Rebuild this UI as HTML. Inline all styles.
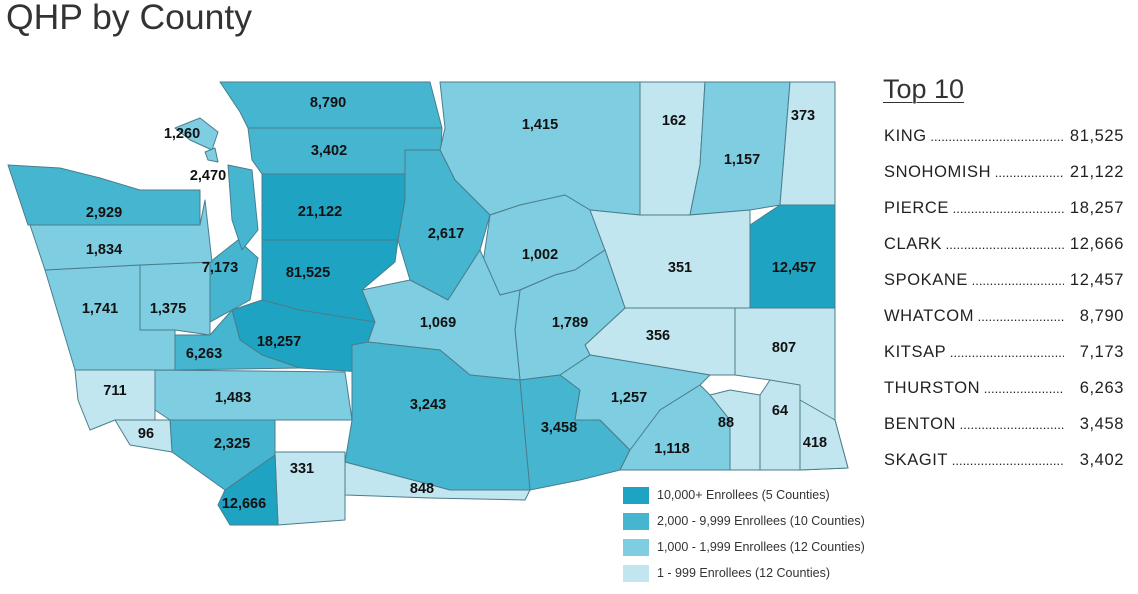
<!DOCTYPE html>
<html><head><meta charset="utf-8"><style>
body{margin:0;width:1138px;height:594px;background:#fff;position:relative;overflow:hidden;font-family:"Liberation Sans","DejaVu Sans",sans-serif;color:#222}
.t{position:absolute;left:6px;top:-3px;font-size:35.5px;color:#333}
.h{position:absolute;left:883px;top:74px;font-size:27px;color:#333;text-decoration:underline;text-decoration-thickness:1px;text-underline-offset:4px}
.row{position:absolute;left:884px;width:240px;font-size:16.5px;letter-spacing:0.6px;display:flex;white-space:nowrap;color:#222}
.row .n{overflow:hidden;width:180px}
.row .n::after{content:" ............................................................";letter-spacing:0;font-size:13px}
.row .v{margin-left:auto}
.lg{position:absolute;left:623px;font-size:12.5px;color:#333}
.lg i{position:absolute;left:0;top:0;width:26px;height:17px}
.lg span{position:absolute;left:34px;top:1px;white-space:nowrap}
svg text{font-family:"Liberation Sans",sans-serif;font-weight:bold;font-size:14.5px;text-anchor:middle;fill:#111}
</style></head><body>
<div class="t">QHP by County</div>
<svg width="860" height="540" style="position:absolute;left:0;top:0">
<g stroke="#4b7d8c" stroke-width="1" stroke-linejoin="round">
<polygon fill="#46b5d0" points="220,82 430,82 442,128 248,128 240,112"/>
<polygon fill="#46b5d0" points="248,128 442,128 440,172 408,174 262,174 252,160"/>
<polygon fill="#1fa3c2" points="262,174 408,174 416,192 405,200 398,240 262,240"/>
<polygon fill="#1fa3c2" points="262,240 398,240 395,262 362,290 375,322 330,318 300,310 262,300"/>
<polygon fill="#1fa3c2" points="232,310 262,300 300,310 375,322 368,342 362,372 300,368 262,355 240,340"/>
<polygon fill="#7fcde0" points="440,82 640,82 640,215 590,210 565,195 545,200 520,205 490,215 455,180 440,150 445,128"/>
<polygon fill="#46b5d0" points="405,150 440,150 455,180 490,215 480,250 448,300 410,280 398,240 405,200"/>
<polygon fill="#7fcde0" points="490,215 520,205 565,195 590,210 605,250 575,270 555,275 520,290 500,295 482,270"/>
<polygon fill="#c1e6ef" points="640,82 705,82 700,165 690,215 640,215"/>
<polygon fill="#7fcde0" points="705,82 790,82 780,205 750,210 690,215 700,165"/>
<polygon fill="#c1e6ef" points="790,82 835,82 835,205 780,205"/>
<polygon fill="#1fa3c2" points="780,205 835,205 835,308 750,308 750,225"/>
<polygon fill="#c1e6ef" points="640,215 690,215 750,210 750,308 625,308 605,250 590,210"/>
<polygon fill="#c1e6ef" points="625,308 735,308 735,375 710,375 590,355 585,345"/>
<polygon fill="#c1e6ef" points="735,308 835,308 835,420 848,468 800,470 800,400 770,380 735,375"/>
<polygon fill="#7fcde0" points="520,290 555,275 575,270 605,250 625,308 585,345 590,355 560,375 520,380 515,330"/>
<polygon fill="#7fcde0" points="362,290 410,280 448,300 480,250 500,295 520,290 515,330 520,380 470,375 440,350 368,342 375,322"/>
<polygon fill="#46b5d0" points="352,345 368,342 440,350 470,375 520,380 530,490 450,490 345,462 352,420"/>
<polygon fill="#46b5d0" points="520,380 560,375 580,390 575,420 600,420 630,450 620,470 580,480 530,490"/>
<polygon fill="#7fcde0" points="560,375 590,355 710,375 700,385 660,410 640,440 630,450 600,420 575,420 580,390"/>
<polygon fill="#7fcde0" points="630,450 660,410 700,385 710,395 730,420 730,470 620,470"/>
<polygon fill="#c1e6ef" points="710,395 730,390 760,395 760,470 730,470 730,420"/>
<polygon fill="#c1e6ef" points="760,395 770,380 800,385 800,470 760,470"/>
<polygon fill="#c1e6ef" points="800,400 835,420 848,468 800,470"/>
<polygon fill="#c1e6ef" points="345,462 450,490 530,490 525,500 430,498 345,495"/>
<polygon fill="#c1e6ef" points="275,452 345,452 345,495 345,520 278,525"/>
<polygon fill="#1fa3c2" points="225,490 275,455 278,525 230,525 218,505"/>
<polygon fill="#46b5d0" points="170,420 275,420 275,455 225,490 172,452"/>
<polygon fill="#7fcde0" points="155,370 345,372 352,420 170,420 155,410"/>
<polygon fill="#c1e6ef" points="115,420 170,420 172,452 130,445"/>
<polygon fill="#c1e6ef" points="75,370 155,370 155,420 115,420 90,430 78,400"/>
<polygon fill="#7fcde0" points="45,270 140,265 140,330 175,330 175,370 75,370 60,320"/>
<polygon fill="#7fcde0" points="140,265 210,262 210,335 175,330 140,330"/>
<polygon fill="#46b5d0" points="175,335 210,335 232,310 240,340 262,355 300,368 175,370"/>
<polygon fill="#46b5d0" points="210,262 238,240 258,258 250,300 232,310 210,322"/>
<polygon fill="#7fcde0" points="30,225 200,225 205,200 212,262 140,265 45,270"/>
<polygon fill="#46b5d0" points="8,165 60,168 100,178 140,190 200,190 200,225 28,225"/>
<polygon fill="#46b5d0" points="228,165 252,170 258,230 242,250 232,220"/>
<polygon fill="#7fcde0" points="175,128 200,118 218,132 212,150 190,140"/>
<polygon fill="#7fcde0" points="205,152 215,148 218,162 208,160"/>
</g>
<text x="328" y="107">8,790</text><text x="182" y="138">1,260</text><text x="329" y="155">3,402</text>
<text x="540" y="129">1,415</text><text x="674" y="125">162</text><text x="803" y="120">373</text>
<text x="742" y="164">1,157</text><text x="208" y="180">2,470</text><text x="104" y="217">2,929</text>
<text x="320" y="216">21,122</text><text x="446" y="238">2,617</text><text x="540" y="259">1,002</text>
<text x="104" y="254">1,834</text><text x="220" y="272">7,173</text><text x="308" y="277">81,525</text>
<text x="680" y="272">351</text><text x="794" y="272">12,457</text><text x="100" y="313">1,741</text>
<text x="168" y="313">1,375</text><text x="438" y="327">1,069</text><text x="570" y="327">1,789</text>
<text x="658" y="340">356</text><text x="279" y="346">18,257</text><text x="204" y="358">6,263</text>
<text x="784" y="352">807</text><text x="115" y="395">711</text><text x="233" y="402">1,483</text>
<text x="428" y="409">3,243</text><text x="629" y="402">1,257</text><text x="559" y="432">3,458</text>
<text x="726" y="427">88</text><text x="780" y="415">64</text><text x="815" y="447">418</text>
<text x="672" y="453">1,118</text><text x="146" y="438">96</text><text x="232" y="448">2,325</text>
<text x="302" y="473">331</text><text x="422" y="493">848</text><text x="244" y="508">12,666</text>
</svg>
<div class="h">Top 10</div>
<div class="row" style="top:127px"><span class="n">KING</span><span class="v">81,525</span></div>
<div class="row" style="top:163px"><span class="n">SNOHOMISH</span><span class="v">21,122</span></div>
<div class="row" style="top:199px"><span class="n">PIERCE</span><span class="v">18,257</span></div>
<div class="row" style="top:235px"><span class="n">CLARK</span><span class="v">12,666</span></div>
<div class="row" style="top:271px"><span class="n">SPOKANE</span><span class="v">12,457</span></div>
<div class="row" style="top:307px"><span class="n">WHATCOM</span><span class="v">8,790</span></div>
<div class="row" style="top:343px"><span class="n">KITSAP</span><span class="v">7,173</span></div>
<div class="row" style="top:379px"><span class="n">THURSTON</span><span class="v">6,263</span></div>
<div class="row" style="top:415px"><span class="n">BENTON</span><span class="v">3,458</span></div>
<div class="row" style="top:451px"><span class="n">SKAGIT</span><span class="v">3,402</span></div>
<div class="lg" style="top:487px"><i style="background:#1fa3c2"></i><span>10,000+ Enrollees (5 Counties)</span></div>
<div class="lg" style="top:513px"><i style="background:#46b5d0"></i><span>2,000 - 9,999 Enrollees (10 Counties)</span></div>
<div class="lg" style="top:539px"><i style="background:#7fcde0"></i><span>1,000 - 1,999 Enrollees (12 Counties)</span></div>
<div class="lg" style="top:565px"><i style="background:#c1e6ef"></i><span>1 - 999 Enrollees (12 Counties)</span></div>
</body></html>
